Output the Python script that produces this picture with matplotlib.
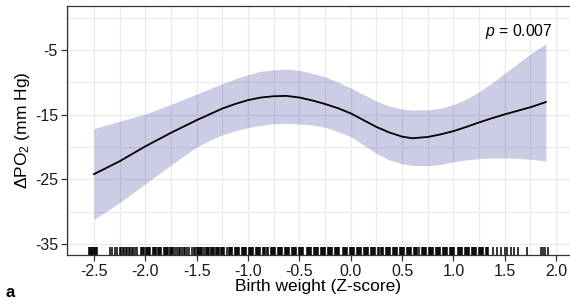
# Spline of delta PO2 against birth weight, with rug of observations
import matplotlib
matplotlib.use("Agg")
import matplotlib.pyplot as plt
import matplotlib.transforms as mtransforms
import numpy as np

# fitted curve and 95% band
birth_z = [-2.5, -2.25, -2.0, -1.75, -1.5, -1.375, -1.25, -1.125, -1.0, -0.875,
           -0.75, -0.625, -0.5, -0.375, -0.25, -0.125, 0.0, 0.125, 0.25, 0.375,
           0.5, 0.6, 0.75, 0.875, 1.0, 1.125, 1.25, 1.375, 1.5, 1.625, 1.75, 1.9]
fit = [-24.2, -22.2, -19.9, -17.8, -15.85, -14.95, -14.05, -13.35, -12.75, -12.35,
       -12.15, -12.1, -12.35, -12.8, -13.35, -14.0, -14.8, -15.85, -16.9, -17.75,
       -18.4, -18.65, -18.45, -18.05, -17.55, -16.9, -16.2, -15.55, -14.95, -14.4,
       -13.85, -13.05]
upper = [-17.15, -16.0, -14.9, -13.4, -11.8, -11.0, -10.2, -9.45, -8.8, -8.3,
         -8.05, -7.95, -8.15, -8.6, -9.15, -9.95, -10.9, -11.9, -12.9, -13.65,
         -14.15, -14.3, -14.25, -14.0, -13.45, -12.6, -11.45, -10.1, -8.6, -7.1,
         -5.6, -4.05]
lower = [-31.2, -28.6, -25.7, -22.8, -20.0, -19.0, -18.1, -17.5, -17.0, -16.65,
         -16.4, -16.35, -16.45, -16.6, -16.95, -17.6, -18.4, -19.7, -21.0, -22.0,
         -22.6, -22.85, -22.9, -22.7, -22.3, -22.0, -21.8, -21.7, -21.7, -21.75,
         -21.9, -22.15]

# observed birth weight z-scores (rug)
rug_z = [
    -2.55, -2.54, -2.53, -2.52, -2.51, -2.50, -2.49, -2.48, -2.47,
    -2.34, -2.32, -2.30, -2.28,
    -2.25, -2.24, -2.22, -2.21, -2.19, -2.18, -2.16, -2.15, -2.13, -2.12, -2.10,
    -2.08,
    -2.04, -2.03, -2.02, -2.01, -1.99, -1.98, -1.97, -1.96, -1.95, -1.93, -1.92,
    -1.91, -1.90, -1.88, -1.87, -1.86, -1.85,
    -1.82, -1.81, -1.80, -1.79, -1.78, -1.76, -1.75, -1.74, -1.73, -1.71,
    -1.69, -1.67, -1.66, -1.64, -1.62, -1.61, -1.59, -1.57, -1.55, -1.53, -1.52,
    -1.50, -1.49, -1.48, -1.47, -1.46, -1.45, -1.43,
    -1.41, -1.40, -1.39, -1.38, -1.36, -1.35, -1.34, -1.33, -1.31, -1.30, -1.29,
    -1.28, -1.26, -1.25, -1.24, -1.23,
    -1.20, -1.19, -1.18, -1.17, -1.16, -1.13, -1.12, -1.11, -1.10, -1.09,
    -1.06, -1.05, -1.04, -1.03, -1.02, -0.99, -0.98, -0.97, -0.96, -0.95,
    -0.92, -0.91, -0.90, -0.89, -0.88, -0.85, -0.84, -0.83, -0.82, -0.81,
    -0.78, -0.77, -0.76, -0.75, -0.74, -0.71, -0.70, -0.69, -0.68, -0.67,
    -0.64, -0.63, -0.62, -0.61, -0.60, -0.57, -0.56, -0.55, -0.54, -0.53,
    -0.50, -0.49, -0.48, -0.47, -0.46, -0.43, -0.42, -0.41, -0.40, -0.39,
    -0.36, -0.35, -0.34, -0.33, -0.32, -0.29, -0.28, -0.27, -0.26, -0.25,
    -0.22, -0.21, -0.20, -0.19, -0.18, -0.15, -0.14, -0.13, -0.12, -0.11,
    -0.08, -0.07, -0.06, -0.05, -0.04, -0.01, 0.00, 0.01, 0.02, 0.03,
    0.06, 0.07, 0.08, 0.09, 0.10, 0.13, 0.14, 0.15, 0.16, 0.17,
    0.20, 0.21, 0.22, 0.23, 0.24, 0.27, 0.28, 0.29, 0.30, 0.31,
    0.34, 0.35, 0.36, 0.37, 0.38, 0.41, 0.42, 0.43, 0.44, 0.45,
    0.48, 0.49, 0.50, 0.51, 0.52, 0.55, 0.56, 0.57, 0.58, 0.59,
    0.62, 0.63, 0.64, 0.65, 0.66, 0.69, 0.70, 0.71, 0.72, 0.73,
    0.76, 0.77, 0.78, 0.79, 0.80, 0.83, 0.84, 0.85, 0.86, 0.87,
    0.90, 0.91, 0.92, 0.93, 0.94, 0.97, 0.98, 0.99, 1.00, 1.01,
    1.04, 1.05, 1.06, 1.07, 1.08, 1.11, 1.12, 1.13, 1.14, 1.15,
    1.18, 1.19, 1.20, 1.21, 1.22, 1.25, 1.26, 1.27, 1.28, 1.29,
    1.32, 1.33, 1.34,
    1.39, 1.42, 1.46, 1.50, 1.52, 1.56, 1.59, 1.63, 1.72,
    1.85, 1.87, 1.89, 1.92,
]

x_ticks = [-2.5, -2.0, -1.5, -1.0, -0.5, 0.0, 0.5, 1.0, 1.5, 2.0]
y_ticks = [-35, -25, -15, -5]

plt.rcParams["font.family"] = ["Liberation Sans", "DejaVu Sans"]
plt.rcParams["mathtext.fontset"] = "custom"
plt.rcParams["mathtext.rm"] = "Liberation Sans"
plt.rcParams["mathtext.it"] = "Liberation Sans:italic"

fig = plt.figure(figsize=(5.7, 3.06), dpi=100)
ax = fig.add_axes([0.1175, 0.1667, 0.8825, 0.8147])

# grid first, so the band sits on top of it
ax.set_axisbelow(True)
ax.set_xticks(x_ticks)
ax.set_xticklabels(["%.1f" % v for v in x_ticks])
ax.set_yticks(y_ticks)
ax.set_yticklabels([str(v) for v in y_ticks])
ax.set_xticks([-2.75, -2.25, -1.75, -1.25, -0.75, -0.25, 0.25, 0.75, 1.25, 1.75],
              minor=True)
ax.set_yticks([-30, -20, -10, 0], minor=True)
ax.grid(which="major", color="#ebebeb", linewidth=1.0)
ax.grid(which="minor", color="#ebebeb", linewidth=0.8)
ax.tick_params(which="minor", length=0)
ax.tick_params(which="major", length=4, width=0.9, color="#333333",
               labelsize=11.5, labelcolor="#1a1a1a", pad=2.5)

ax.fill_between(birth_z, lower, upper, color="#000080", alpha=0.2,
                linewidth=0)
ax.plot(birth_z, fit, color="black", linewidth=1.3)

# rug along the bottom edge
trans = mtransforms.blended_transform_factory(ax.transData, ax.transAxes)
ax.vlines(rug_z, 0, 0.034, transform=trans, color="black", linewidth=1.1)

ax.set_xlim(-2.763, 2.135)
ax.set_ylim(-36.7, 1.85)

for side in ["left", "top", "bottom"]:
    ax.spines[side].set_color("#333333")
    ax.spines[side].set_linewidth(0.9)
ax.spines["right"].set_visible(False)

ax.text(1.97, -2.1, "$p$ = 0.007", ha="right", va="center", fontsize=11.3)

ax.set_xlabel("Birth weight (Z-score)", fontsize=12.5, labelpad=0)
ax.set_ylabel("\u0394PO$_2$ (mm Hg)", fontsize=12.5, labelpad=2)

fig.text(0.01, 0.028, "a", fontsize=12, fontweight="bold")

fig.savefig("out.png", dpi=100)
